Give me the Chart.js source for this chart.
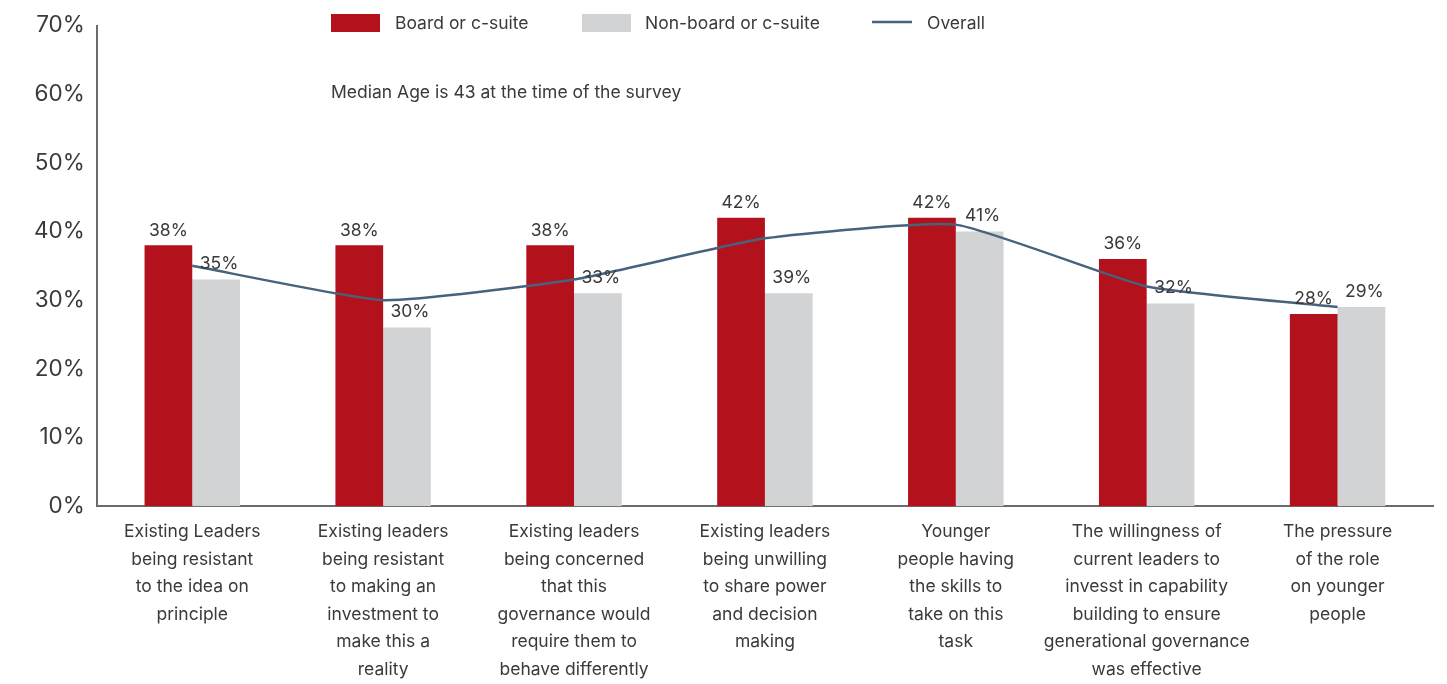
<!DOCTYPE html>
<html>
<head>
<meta charset="utf-8">
<style>
  html, body { margin: 0; padding: 0; background: #fff; }
</style>
<script src="https://cdn.jsdelivr.net/npm/chart.js@4"></script>
</head>
<body>
<canvas id="leaders-chart" width="1447" height="684"></canvas>
<script>
// --Leadership barriers chart-- //

const categories = [
  ['Existing Leaders', 'being resistant', 'to the idea on', 'principle'],
  ['Existing leaders', 'being resistant', 'to making an', 'investment to', 'make this a', 'reality'],
  ['Existing leaders', 'being concerned', 'that this', 'governance would', 'require them to', 'behave differently'],
  ['Existing leaders', 'being unwilling', 'to share power', 'and decision', 'making'],
  ['Younger', 'people having', 'the skills to', 'take on this', 'task'],
  ['The willingness of', 'current leaders to', 'invesst in capability', 'building to ensure', 'generational governance', 'was effective'],
  ['The pressure', 'of the role', 'on younger', 'people']
];

const boardValues = [38, 38, 38, 42, 42, 36, 28];
const nonBoardValues = [33, 26, 31, 31, 40, 29.5, 29];
const overallValues = [35, 30, 33, 39, 41, 32, 29];

const seriesNames = ['Board or c-suite', 'Non-board or c-suite', 'Overall'];
const subtitleText = 'Median Age is 43 at the time of the survey';

const RED = '#b3121c';
const GREY = '#d2d3d5';
const SLATE = '#47627d';
const TEXT = '#3a3a3a';
const FONT = 'Inter, "Noto Sans", sans-serif';

// value labels: red bars show their own value, the overall value sits above the grey bar
const valueLabels = {
  id: 'valueLabels',
  afterDatasetsDraw(chart) {
    const ctx = chart.ctx;
    const red = chart.getDatasetMeta(0).data;
    const grey = chart.getDatasetMeta(1).data;
    ctx.save();
    ctx.font = '17.5px ' + FONT;
    ctx.fillStyle = TEXT;
    ctx.textAlign = 'center';
    ctx.textBaseline = 'bottom';
    red.forEach((bar, i) => {
      ctx.fillText(boardValues[i] + '%', bar.x, bar.y - 6);
    });
    grey.forEach((bar, i) => {
      ctx.fillText(overallValues[i] + '%', bar.x + 3, bar.y - 7);
    });
    ctx.restore();
  }
};

// legend row and note drawn inside the plot area
const topLegend = {
  id: 'topLegend',
  afterDraw(chart) {
    const ctx = chart.ctx;
    const ds = chart.data.datasets;
    ctx.save();
    ctx.font = '17.5px ' + FONT;
    ctx.textBaseline = 'middle';

    ctx.fillStyle = ds[0].backgroundColor;
    ctx.fillRect(331, 14, 49, 18);
    ctx.fillStyle = TEXT;
    ctx.fillText(ds[0].label, 395, 24);

    ctx.fillStyle = ds[1].backgroundColor;
    ctx.fillRect(582, 14, 49, 18);
    ctx.fillStyle = TEXT;
    ctx.fillText(ds[1].label, 645, 24);

    ctx.strokeStyle = ds[2].borderColor;
    ctx.lineWidth = 2.5;
    ctx.beginPath();
    ctx.moveTo(872, 22);
    ctx.lineTo(912, 22);
    ctx.stroke();
    ctx.fillText(ds[2].label, 927, 24);

    ctx.fillText(subtitleText, 331, 93);
    ctx.restore();
  }
};

const chartCanvas = document.getElementById('leaders-chart');

const leadersChart = new Chart(chartCanvas, {
  type: 'bar',
  data: {
    labels: categories,
    datasets: [
      {
        label: seriesNames[0],
        data: boardValues,
        backgroundColor: RED,
        categoryPercentage: 0.5,
        barPercentage: 1.0,
        order: 1
      },
      {
        label: seriesNames[1],
        data: nonBoardValues,
        backgroundColor: GREY,
        categoryPercentage: 0.5,
        barPercentage: 1.0,
        order: 2
      },
      {
        label: seriesNames[2],
        type: 'line',
        data: overallValues,
        borderColor: SLATE,
        backgroundColor: SLATE,
        borderWidth: 2.5,
        pointRadius: 0,
        tension: 0.15,
        order: 0
      }
    ]
  },
  options: {
    responsive: false,
    animation: false,
    layout: {
      padding: { top: -2, right: 14, bottom: -11, left: 22 }
    },
    scales: {
      x: {
        grid: { display: false, drawTicks: false },
        border: { color: '#6b6b6b', width: 2 },
        ticks: {
          color: TEXT,
          font: { family: FONT, size: 17.5, lineHeight: 1.57 },
          padding: 12,
          maxRotation: 0,
          autoSkip: false
        }
      },
      y: {
        min: 0,
        max: 70,
        grid: { display: false, drawTicks: false },
        border: { color: '#6b6b6b', width: 2 },
        ticks: {
          stepSize: 10,
          color: TEXT,
          font: { family: FONT, size: 22.5 },
          padding: 12,
          callback: (v) => v + '%'
        }
      }
    },
    plugins: {
      legend: { display: false },
      tooltip: { enabled: false }
    }
  },
  plugins: [valueLabels, topLegend]
});
</script>
</body>
</html>
